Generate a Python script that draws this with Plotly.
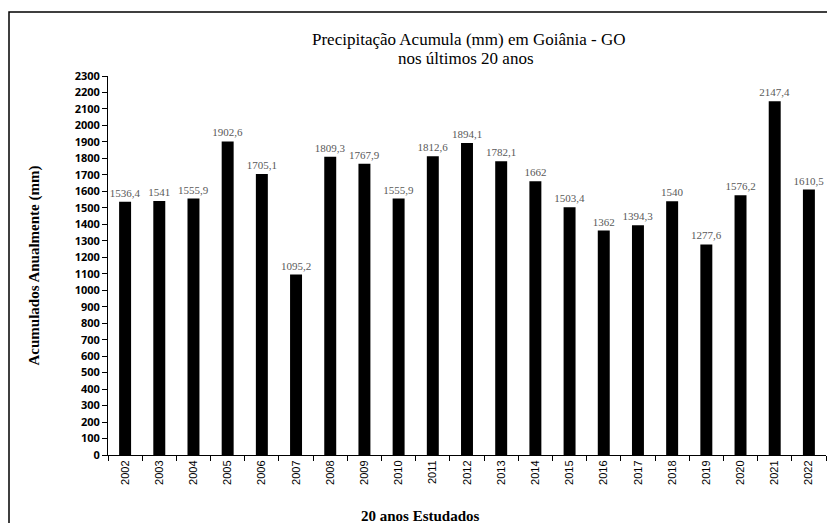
import plotly.graph_objects as go

years = [str(y) for y in range(2002, 2023)]
values = [1536.4, 1541, 1555.9, 1902.6, 1705.1, 1095.2, 1809.3, 1767.9, 1555.9, 1812.6,
          1894.1, 1782.1, 1662, 1503.4, 1362, 1394.3, 1540, 1277.6, 1576.2, 2147.4, 1610.5]
labels = [("%g" % v).replace(".", ",") for v in values]
y_ticks = list(range(0, 2301, 100))

OFF = 8  # default page body margin
W, H = 827, 515
L, R, T, B = 100, 9, 68, 68
pw, ph = W - L - R, H - T - B

def px_x(x):
    return (x - OFF - L) / pw

def px_y(y):
    return (H - B - (y - OFF)) / ph

fig = go.Figure(go.Bar(
    x=years, y=values, marker=dict(color="black", line=dict(width=0)),
    text=labels, textposition="outside", cliponaxis=False, constraintext="none",
    textfont=dict(family="Liberation Serif", size=11, color="#595959"),
))

fig.update_layout(
    width=W, height=H, margin=dict(l=L, r=R, t=T, b=B),
    plot_bgcolor="white", paper_bgcolor="white", bargap=0.65,
    showlegend=False,
    xaxis=dict(type="category", showline=True, linecolor="black", linewidth=1,
               ticks="outside", tickson="boundaries", ticklen=5, tickcolor="black",
               tickangle=-90, tickfont=dict(family="Liberation Sans", size=11, color="black")),
    yaxis=dict(range=[0, 2300], tickvals=y_ticks, showgrid=False, zeroline=False,
               showline=True, linecolor="black", linewidth=1,
               ticks="outside", ticklen=5, tickcolor="black",
               tickfont=dict(family="Open Sans", size=11, color="black", weight="bold"),
               title=dict(text="<b>Acumulados Anualmente (mm)</b>", standoff=31,
                          font=dict(family="Liberation Serif", size=15, color="black"))),
    annotations=[
        dict(text="Precipitação Acumula (mm) em Goiânia - GO", xref="paper", yref="paper",
             x=px_x(468), y=px_y(39), xanchor="center", yanchor="middle", showarrow=False,
             font=dict(family="Liberation Serif", size=17, color="black")),
        dict(text="nos últimos 20 anos", xref="paper", yref="paper",
             x=px_x(466), y=px_y(59), xanchor="center", yanchor="middle", showarrow=False,
             font=dict(family="Liberation Serif", size=17, color="black")),
        dict(text="<b>20 anos Estudados</b>", xref="paper", yref="paper",
             x=px_x(420), y=px_y(516), xanchor="center", yanchor="middle", showarrow=False,
             font=dict(family="Liberation Serif", size=15, color="black")),
    ],
    shapes=[dict(type="rect", xref="paper", yref="paper",
                 x0=px_x(9), x1=px_x(850), y0=px_y(545), y1=px_y(12),
                 line=dict(color="black", width=1.5), fillcolor="rgba(0,0,0,0)", layer="below")],
)

fig.write_html("out.html")
